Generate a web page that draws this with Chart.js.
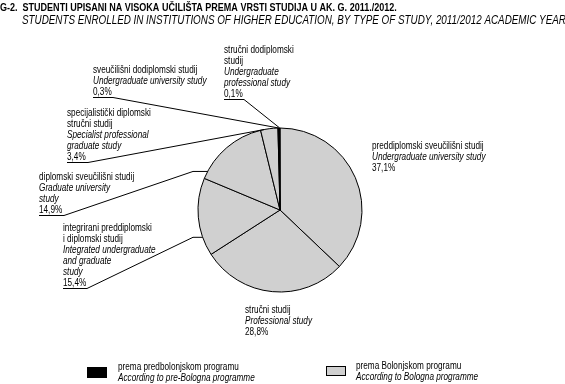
<!DOCTYPE html>
<html><head><meta charset="utf-8">
<script src="https://cdn.jsdelivr.net/npm/chart.js@4.4.1/dist/chart.umd.min.js"></script>
<style>html,body{margin:0;padding:0;background:#fff;overflow:hidden}</style>
</head><body><canvas id="c" width="565" height="384"></canvas>
<script>
// ---- data ----
const categoriesHr = [
  ['preddiplomski sveučilišni studij'],
  ['stručni studij'],
  ['integrirani preddiplomski', 'i diplomski studij'],
  ['diplomski sveučilišni studij'],
  ['specijalistički diplomski', 'stručni studij'],
  ['sveučilišni dodiplomski studij'],
  ['stručni dodiplomski', 'studij']
];
const categoriesEn = [
  ['Undergraduate university study'],
  ['Professional study'],
  ['Integrated undergraduate', 'and graduate', 'study'],
  ['Graduate university', 'study'],
  ['Specialist professional', 'graduate study'],
  ['Undergraduate university study'],
  ['Undergraduate', 'professional study']
];
const shares = [37.1, 28.8, 15.4, 14.9, 3.4, 0.3, 0.1];
const shareLabels = ['37,1%', '28,8%', '15,4%', '14,9%', '3,4%', '0,3%', '0,1%'];
const programme = ['bologna', 'bologna', 'bologna', 'bologna', 'bologna', 'pre', 'pre'];
const legendHr = ['prema predbolonjskom programu', 'prema Bolonjskom programu'];
const legendEn = ['According to pre-Bologna programme', 'According to Bologna programme'];
const titleHr = 'G-2.  STUDENTI UPISANI NA VISOKA UČILIŠTA PREMA VRSTI STUDIJA U AK. G. 2011./2012.';
const titleEn = 'STUDENTS ENROLLED IN INSTITUTIONS OF HIGHER EDUCATION, BY TYPE OF STUDY, 2011/2012 ACADEMIC YEAR';

// ---- styling ----
const GRAY = '#d0d0d0';
const FONT = '"Liberation Sans", Arial, sans-serif';
const NARROW = 0.82;
const LH = 11;
// label placement: x, first-line y, leader: underline width, elbow x (or null), fraction within slice
const place = [
  {x: 372, y: 146},
  {x: 245, y: 310},
  {x: 63, y: 228, uw: 24, elbow: 193, frac: 0.24},
  {x: 39, y: 177, uw: 25, elbow: 193, frac: 0.1},
  {x: 67, y: 113, uw: 21, elbow: null, frac: 0.2},
  {x: 93, y: 70, uw: 20, elbow: null, frac: 0.5},
  {x: 224, y: 50, uw: 20, elbow: null, frac: 0.5}
];

function narrowText(ctx, t, x, y) {
  ctx.save();
  ctx.translate(x, y);
  ctx.scale(NARROW, 1);
  ctx.fillText(t, 0, 0);
  ctx.restore();
}

const labelPlugin = {
  id: 'labels',
  afterDraw(chart) {
    const ctx = chart.ctx;
    ctx.save();
    ctx.fillStyle = '#000';
    ctx.textBaseline = 'middle';
    // titles
    ctx.font = 'bold 11px ' + FONT;
    narrowText(ctx, titleHr, 0, 8);
    ctx.font = 'italic 12px ' + FONT;
    narrowText(ctx, titleEn, 22, 21);

    const meta = chart.getDatasetMeta(0);
    shares.forEach((v, i) => {
      const p = place[i];
      const lines = [];
      categoriesHr[i].forEach(t => lines.push([t, false]));
      categoriesEn[i].forEach(t => lines.push([t, true]));
      lines.push([shareLabels[i], false]);
      lines.forEach((ln, k) => {
        ctx.font = (ln[1] ? 'italic ' : '') + '10px ' + FONT;
        narrowText(ctx, ln[0], p.x, p.y + k * LH);
      });
      if (p.uw) {
        const arc = meta.data[i];
        const a = arc.startAngle + p.frac * (arc.endAngle - arc.startAngle);
        const ex = arc.x + arc.outerRadius * Math.cos(a);
        const ey = arc.y + arc.outerRadius * Math.sin(a);
        const uy = Math.round(p.y + (lines.length - 1) * LH + 5) + 0.5;
        ctx.strokeStyle = '#000';
        ctx.lineWidth = 1;
        ctx.beginPath();
        ctx.moveTo(p.x, uy);
        ctx.lineTo(p.x + p.uw, uy);
        if (p.elbow !== null) {
          ctx.lineTo(p.elbow, ey);
        }
        ctx.lineTo(ex, ey);
        ctx.stroke();
      }
    });

    // legend
    const items = [
      {box: [87, 367, 20, 11], fill: '#000', tx: 118, ty: 367},
      {box: [326, 366, 20, 10], fill: GRAY, tx: 356, ty: 366}
    ];
    items.forEach((it, j) => {
      ctx.fillStyle = it.fill;
      ctx.fillRect(...it.box);
      ctx.strokeStyle = '#000';
      ctx.lineWidth = 1;
      ctx.strokeRect(it.box[0] + 0.5, it.box[1] + 0.5, it.box[2] - 1, it.box[3] - 1);
      ctx.fillStyle = '#000';
      ctx.font = '10px ' + FONT;
      narrowText(ctx, legendHr[j], it.tx, it.ty);
      ctx.font = 'italic 10px ' + FONT;
      narrowText(ctx, legendEn[j], it.tx, it.ty + LH);
    });
    ctx.restore();
  }
};

new Chart(document.getElementById('c'), {
  type: 'pie',
  data: {
    labels: categoriesHr.map(l => l.join(' ')),
    datasets: [{
      data: shares,
      backgroundColor: programme.map(p => p === 'pre' ? '#000' : GRAY),
      borderColor: '#000',
      borderWidth: 1
    }]
  },
  options: {
    responsive: false,
    animation: false,
    layout: {padding: {top: 127.5, bottom: 91.5, left: 197.5, right: 202.5}},
    plugins: {legend: {display: false}, tooltip: {enabled: false}}
  },
  plugins: [labelPlugin]
});
</script>
</body></html>
